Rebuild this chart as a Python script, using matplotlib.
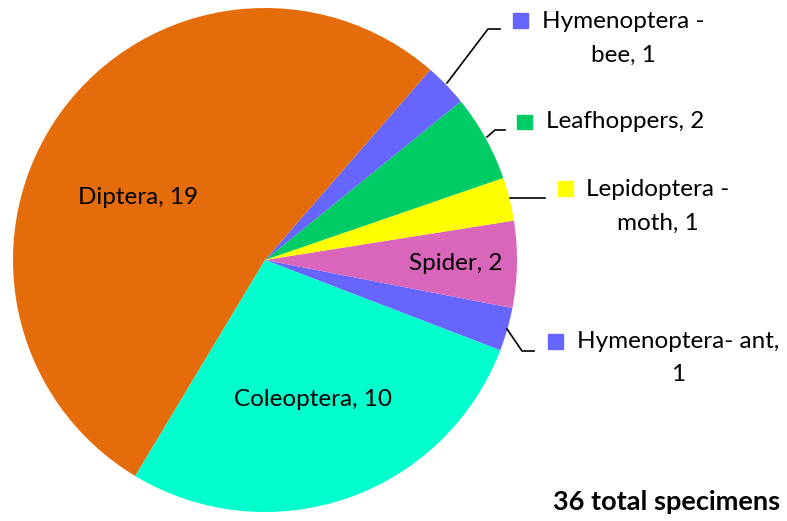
import matplotlib.pyplot as plt

plt.rcParams['font.family'] = ['Lato', 'DejaVu Sans']

# specimen counts by group
groups = ['Hymenoptera- ant', 'Spider', 'Lepidoptera - moth', 'Leafhoppers',
          'Hymenoptera - bee', 'Diptera', 'Coleoptera']
counts = [1, 2, 1, 2, 1, 19, 10]
colors = ['#6666FF', '#D966BA', '#FFFF00', '#00CC66', '#6666FF', '#E46C0A', '#00FFCC']
total = sum(counts)

fig = plt.figure(figsize=(7.87, 5.21), dpi=100)
ax = fig.add_axes([0, 0, 1, 1])

# y axis runs top-down (pixel-like), so draw clockwise to look counter-clockwise
ax.pie(counts, colors=colors, center=(265, 260), radius=252,
       startangle=21, counterclock=False,
       wedgeprops=dict(linewidth=0))
ax.set_xlim(0, 787)
ax.set_ylim(521, 0)
ax.set_aspect('equal')
ax.axis('off')

fs = 17.5
ls = 1.75

# labels inside the pie
ax.text(138, 198, f'Diptera, {counts[5]}', ha='center', va='center', fontsize=fs)
ax.text(456, 264, f'Spider, {counts[1]}', ha='center', va='center', fontsize=fs)
ax.text(313, 400, f'Coleoptera, {counts[6]}', ha='center', va='center', fontsize=fs)

# outside labels with leader lines and small colour keys
ax.plot([447, 488, 500], [83, 29, 29], color='black', lw=1.2)
ax.add_patch(plt.Rectangle((513, 13), 15, 15, color=colors[4]))
ax.text(623, 38, f'Hymenoptera -\nbee, {counts[4]}', ha='center', va='center',
        fontsize=fs, linespacing=ls)

ax.plot([487, 495, 505], [137, 130, 130], color='black', lw=1.2)
ax.add_patch(plt.Rectangle((517, 115), 15, 14, color=colors[3]))
ax.text(546, 122, f'Leafhoppers, {counts[3]}', ha='left', va='center', fontsize=fs)

ax.plot([510, 545], [198, 198], color='black', lw=1.2)
ax.add_patch(plt.Rectangle((558, 181), 15, 15, color=colors[2]))
ax.text(658, 206, f'Lepidoptera -\nmoth, {counts[2]}', ha='center', va='center',
        fontsize=fs, linespacing=ls)

ax.plot([507, 522, 534], [329, 351, 351], color='black', lw=1.2)
ax.add_patch(plt.Rectangle((548, 334), 15, 15, color=colors[0]))
ax.text(678, 358, f'Hymenoptera- ant,\n{counts[0]}', ha='center', va='center',
        fontsize=fs, linespacing=ls)

ax.text(780, 502, f'{total} total specimens', ha='right', va='center',
        fontsize=19.5, fontweight='bold')

fig.savefig('out.png', dpi=100)
